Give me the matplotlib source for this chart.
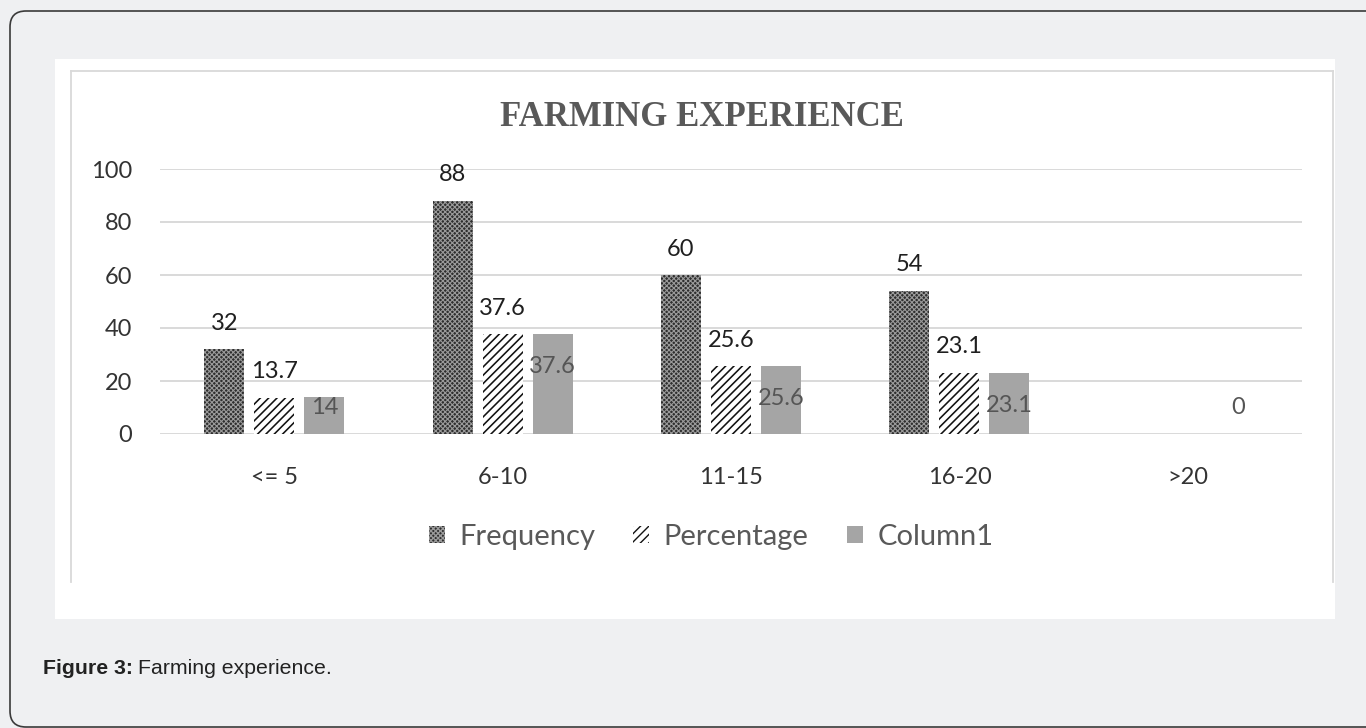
import numpy as np
import matplotlib
matplotlib.use("Agg")
import matplotlib.pyplot as plt
from matplotlib.patches import FancyBboxPatch, Rectangle, Patch
from matplotlib.lines import Line2D

# ---- data ----
categories = ["<= 5", "6-10", "11-15", "16-20", ">20"]
frequency = [32, 88, 60, 54, np.nan]
percentage = [13.7, 37.6, 25.6, 23.1, np.nan]
column1 = [14, 37.6, 25.6, 23.1, 0]
series_names = ["Frequency", "Percentage", "Column1"]
yticks = [0, 20, 40, 60, 80, 100]
title = "FARMING EXPERIENCE"

W, H = 1366, 728
fig = plt.figure(figsize=(W / 100, H / 100), dpi=100, facecolor="#eff0f2")

# outer rounded card
card = FancyBboxPatch((10, 1), 1400, 716, boxstyle="round,pad=0,rounding_size=16",
                      transform=None, facecolor="#eff0f2", edgecolor="#3a3a3a", lw=1.2, zorder=-3)
fig.patches.append(card)
# white panel
panel = Rectangle((55, H - 619), 1280, 560, transform=None, facecolor="white",
                  edgecolor="none", zorder=-2)
fig.patches.append(panel)
# light chart frame (top, left, right)
fc = "#d9d9d9"
for xs, ys in [([71, 71], [H - 582, H - 71]), ([71, 1333], [H - 71, H - 71]), ([1333, 1333], [H - 71, H - 582])]:
    fig.lines.append(Line2D(xs, ys, transform=None, color=fc, lw=1.3, zorder=-1))

# axes: x 160..1302 px, y 0 -> 434 px, 100 -> 169 px
ax = fig.add_axes([160 / W, (H - 434) / H, 1142 / W, 265 / H])
ax.set_zorder(2)
ax.set_facecolor("none")
ax.set_xlim(-0.5, len(categories) - 0.5)
ax.set_ylim(0, 100)
for s in ax.spines.values():
    s.set_visible(False)
ax.set_yticks(yticks)
ax.yaxis.grid(True, color="#d9d9d9", lw=1.4)
ax.set_axisbelow(True)
x = np.arange(len(categories))
ax.set_xticks(x)
ax.set_xticklabels(categories)
ax.tick_params(length=0, labelsize=17, labelcolor="#333333")
ax.tick_params(axis="x", pad=24)
ax.tick_params(axis="y", pad=20)
for lab in ax.get_xticklabels() + ax.get_yticklabels():
    lab.set_fontfamily("Lato")

bw = 0.175
step = 0.219

FREQ_FACE, FREQ_HATCH = "#2e2e2e", "#9a9a9a"

with plt.rc_context({"hatch.linewidth": 0.8}):
    b1 = ax.bar(x - step, frequency, bw, facecolor=FREQ_FACE, edgecolor=FREQ_HATCH,
                hatch="xxxxxxx", lw=0, zorder=3)
with plt.rc_context({"hatch.linewidth": 1.15}):
    b2 = ax.bar(x, percentage, bw, facecolor="white", edgecolor="#111111",
                hatch="////", lw=0, zorder=3)
b3 = ax.bar(x + step, column1, bw, facecolor="#a5a5a5", edgecolor="none", zorder=3)

lab_kw = dict(fontsize=17, family="Lato", ha="center")
for xi, v in zip(x - step, frequency):
    if not np.isnan(v):
        ax.annotate(f"{v:g}", (xi, v), xytext=(0, 14), textcoords="offset points",
                    va="baseline", color="#1f1f1f", **lab_kw)
for xi, v in zip(x, percentage):
    if not np.isnan(v):
        ax.annotate(f"{v:g}", (xi, v), xytext=(0, 14), textcoords="offset points",
                    va="baseline", color="#1f1f1f", **lab_kw)
for xi, v in zip(x + step, column1):
    ax.text(xi, max(v - 11.5, 10.8), f"{v:g}", va="center_baseline",
            color="#555555", zorder=4, **lab_kw)

# title
fig.text(702 / W, 1 - 117 / H, title, ha="center", va="center", fontsize=25,
         family="Liberation Serif", fontweight="bold", color="#595959")

# legend
with plt.rc_context({"hatch.linewidth": 0.8}):
    h1 = Patch(facecolor=FREQ_FACE, edgecolor=FREQ_HATCH, hatch="xxxxxxx", lw=0)
with plt.rc_context({"hatch.linewidth": 1.0}):
    h2 = Patch(facecolor="white", edgecolor="#111111", hatch="////", lw=0)
h3 = Patch(facecolor="#a5a5a5", edgecolor="none")
leg = fig.legend([h1, h2, h3], series_names, loc="center", bbox_to_anchor=(711 / W, 1 - 537 / H),
                 ncol=3, frameon=False, prop={"family": "Lato", "size": 21},
                 handlelength=0.55, handleheight=0.55, handletextpad=0.5,
                 columnspacing=1.3, labelcolor="#595959")

# caption
t1 = fig.text(43 / W, 1 - 669 / H, "Figure 3:", ha="left", va="center", fontsize=15.3,
              family="Liberation Sans", fontweight="bold", color="#222222")
fig.canvas.draw()
bb = t1.get_window_extent()
fig.text((bb.x1 + 5) / W, 1 - 669 / H, "Farming experience.", ha="left", va="center",
         fontsize=15.3, family="Liberation Sans", color="#222222")

fig.savefig("out.png", dpi=100, facecolor=fig.get_facecolor())
